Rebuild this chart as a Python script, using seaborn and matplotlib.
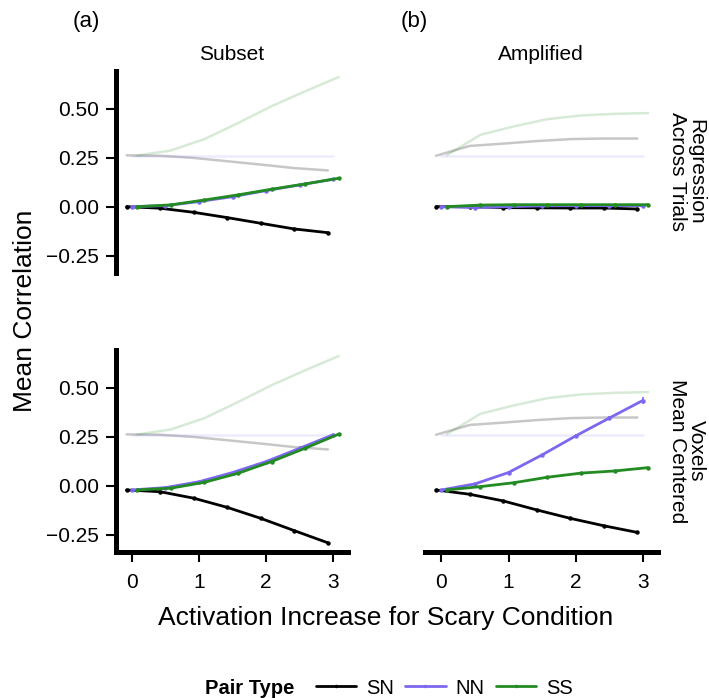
import numpy as np
import pandas as pd
import matplotlib
matplotlib.use("Agg")
import matplotlib.pyplot as plt
from matplotlib.lines import Line2D
import seaborn as sns

sns.set_theme(style="white")
plt.rcParams["font.family"] = ["Liberation Sans", "DejaVu Sans"]
plt.rcParams["text.color"] = "black"
plt.rcParams["axes.labelcolor"] = "black"
plt.rcParams["xtick.color"] = "black"
plt.rcParams["ytick.color"] = "black"

# Activation increase levels
activation = [0, 0.5, 1, 1.5, 2, 2.5, 3]
pair_types = ["SN", "NN", "SS"]
methods = ["Subset", "Amplified"]
analyses = ["Regression\nAcross Trials", "Voxels\nMean Centered"]

# Mean correlations: Subset / Regression across trials
sub_reg_sn = [0.000, -0.008, -0.029, -0.056, -0.085, -0.114, -0.133]
sub_reg_nn = [0.000, 0.005, 0.026, 0.051, 0.082, 0.111, 0.140]
sub_reg_ss = [0.000, 0.009, 0.034, 0.060, 0.089, 0.116, 0.145]
# Amplified / Regression across trials
amp_reg_sn = [0.000, 0.000, -0.005, -0.006, -0.007, -0.007, -0.012]
amp_reg_nn = [0.000, -0.005, 0.000, 0.004, 0.005, 0.005, 0.005]
amp_reg_ss = [0.000, 0.008, 0.010, 0.010, 0.010, 0.010, 0.010]
# Subset / Voxels mean centered
sub_vox_sn = [-0.022, -0.031, -0.064, -0.111, -0.167, -0.230, -0.292]
sub_vox_nn = [-0.022, -0.010, 0.020, 0.067, 0.123, 0.191, 0.260]
sub_vox_ss = [-0.022, -0.013, 0.017, 0.063, 0.123, 0.191, 0.263]
# Amplified / Voxels mean centered
amp_vox_sn = [-0.022, -0.044, -0.078, -0.124, -0.167, -0.205, -0.239]
amp_vox_nn = [-0.022, 0.009, 0.067, 0.157, 0.254, 0.345, 0.435]
amp_vox_ss = [-0.022, -0.005, 0.015, 0.043, 0.064, 0.075, 0.092]
amp_vox_nn_se = [0.002, 0.004, 0.005, 0.007, 0.009, 0.011, 0.018]

# Reference (true pattern) correlations, shown faintly behind each column
ref_sub_sn = [0.262, 0.260, 0.249, 0.232, 0.215, 0.197, 0.185]
ref_sub_nn = [0.260, 0.260, 0.260, 0.260, 0.260, 0.260, 0.260]
ref_sub_ss = [0.261, 0.287, 0.345, 0.427, 0.513, 0.589, 0.662]
ref_amp_sn = [0.260, 0.310, 0.322, 0.335, 0.345, 0.348, 0.348]
ref_amp_nn = [0.260, 0.260, 0.260, 0.260, 0.260, 0.260, 0.260]
ref_amp_ss = [0.263, 0.367, 0.410, 0.447, 0.466, 0.474, 0.478]

results = {
    (0, 0): (sub_reg_sn, sub_reg_nn, sub_reg_ss),
    (0, 1): (amp_reg_sn, amp_reg_nn, amp_reg_ss),
    (1, 0): (sub_vox_sn, sub_vox_nn, sub_vox_ss),
    (1, 1): (amp_vox_sn, amp_vox_nn, amp_vox_ss),
}
references = {
    0: (ref_sub_sn, ref_sub_nn, ref_sub_ss),
    1: (ref_amp_sn, ref_amp_nn, ref_amp_ss),
}

palette = {"SN": "black", "NN": "#7B68EE", "SS": "#228B22"}
ref_alpha = {"SN": 0.22, "NN": 0.13, "SS": 0.18}
dodge = {"SN": -0.08, "NN": 0.0, "SS": 0.08}


def long_frame(series):
    rows = []
    for pair, vals in zip(pair_types, series):
        for x, v in zip(activation, vals):
            rows.append({"x": x + dodge[pair], "r": v, "pair": pair})
    return pd.DataFrame(rows)


fig = plt.figure(figsize=(7.09, 6.98), dpi=100)
W, H = 709, 698
col_left = [115.5, 425.0]
row_top = [71.0, 350.0]
panel_w, panel_h = 232.5, 202.0

XLIM = (-0.245, 3.22)
YLIM = (-0.339, 0.693)
tick_fs, strip_fs, title_fs = 15, 15, 19

for r in range(2):
    for c in range(2):
        ax = fig.add_axes([col_left[c] / W, 1 - (row_top[r] + panel_h) / H,
                           panel_w / W, panel_h / H])
        ax.set_facecolor("none")

        # faint reference curves
        ref = long_frame(references[c])
        for pair in pair_types:
            sns.lineplot(data=ref[ref["pair"] == pair], x="x", y="r",
                         color=palette[pair], alpha=ref_alpha[pair],
                         linewidth=1.8, ax=ax, legend=False, zorder=1)

        df = long_frame(results[(r, c)])
        sns.lineplot(data=df, x="x", y="r", hue="pair", hue_order=pair_types,
                     palette=palette, marker="o", markersize=3.2,
                     markeredgewidth=0, linewidth=2.0, ax=ax, legend=False,
                     zorder=3)

        if (r, c) == (1, 1):
            nn = df[df["pair"] == "NN"]
            ax.errorbar(nn["x"], nn["r"], yerr=amp_vox_nn_se, fmt="none",
                        ecolor=palette["NN"], elinewidth=1.2, capsize=0,
                        zorder=3)

        ax.set_xlim(*XLIM)
        ax.set_ylim(*YLIM)
        ax.set_xlabel("")
        ax.set_ylabel("")
        ax.set_xticks([0, 1, 2, 3])
        ax.set_yticks([-0.25, 0.0, 0.25, 0.5])
        ax.set_yticklabels(["\u22120.25", "0.00", "0.25", "0.50"])

        for s in ax.spines.values():
            s.set_visible(False)
        ax.tick_params(axis="both", labelsize=tick_fs, colors="black",
                       length=7, width=1.5, direction="out")
        ax.tick_params(axis="y", pad=5)
        ax.tick_params(axis="x", pad=8)

        if c == 0:
            ax.spines["left"].set_visible(True)
            ax.spines["left"].set_linewidth(3.6)
            ax.spines["left"].set_color("black")
            ax.tick_params(axis="y", left=True, labelleft=True)
        else:
            ax.tick_params(axis="y", left=False, labelleft=False)

        if r == 1:
            ax.spines["bottom"].set_visible(True)
            ax.spines["bottom"].set_linewidth(3.6)
            ax.spines["bottom"].set_color("black")
            ax.tick_params(axis="x", bottom=True, labelbottom=True)
        else:
            ax.tick_params(axis="x", bottom=False, labelbottom=False)

        if r == 0:
            ax.text(0.5, 1.08, methods[c], transform=ax.transAxes,
                    ha="center", va="center", fontsize=strip_fs)
        if c == 1:
            ax.text(1.125, 0.5, analyses[r], transform=ax.transAxes,
                    ha="center", va="center", rotation=-90,
                    fontsize=strip_fs, linespacing=1.0)

# panel tags
fig.text(86 / W, 1 - 22 / H, "(a)", ha="center", va="center", fontsize=16)
fig.text(414 / W, 1 - 22 / H, "(b)", ha="center", va="center", fontsize=16)

# shared axis titles
fig.text(25 / W, 1 - 311 / H, "Mean Correlation", rotation=90,
         ha="center", va="center", fontsize=title_fs)
fig.text(386 / W, 1 - 618 / H, "Activation Increase for Scary Condition",
         ha="center", va="center", fontsize=title_fs)

# legend
fig.text(205 / W, 1 - 688 / H, "Pair Type", ha="left", va="center",
         fontsize=14.5, fontweight="bold")
handles = [Line2D([0], [0], color=palette[p], lw=2.0, marker="o",
                  markersize=2.5, markeredgewidth=0) for p in pair_types]
fig.legend(handles, pair_types, ncol=3, loc="center left",
           bbox_to_anchor=(316 / W, 1 - 688 / H), frameon=False,
           fontsize=14.5, handlelength=2.0, handletextpad=0.5,
           columnspacing=0.55, borderaxespad=0, borderpad=0)

fig.savefig("out.png", dpi=100)
